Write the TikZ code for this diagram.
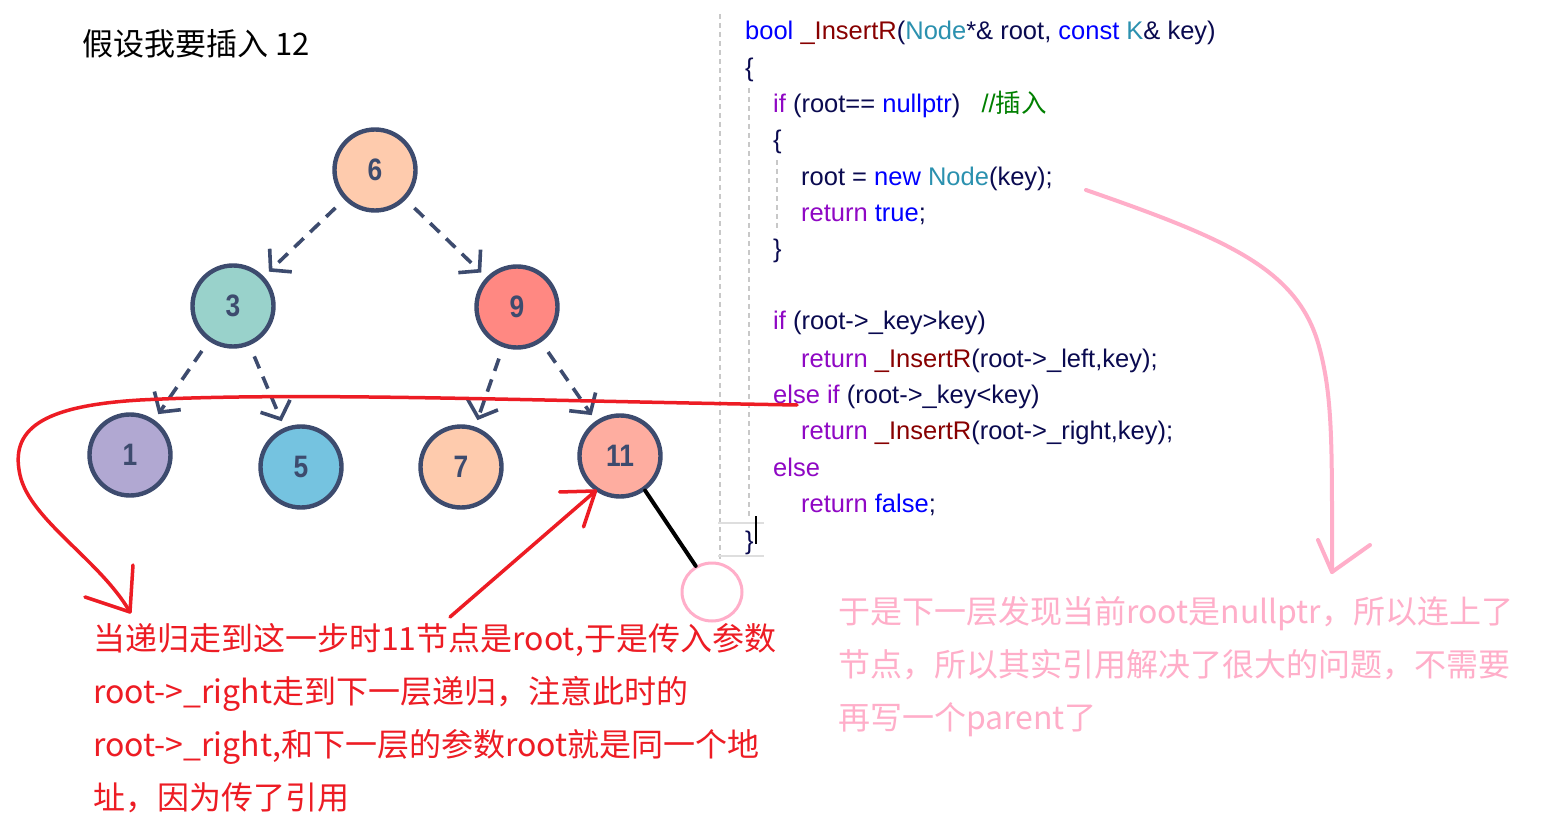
\documentclass[tikz,border=0pt]{standalone}
\usepackage{fontspec}
\setmainfont{Liberation Sans}
\newfontfamily\cjk{Noto Sans CJK SC}
\usepackage{xcolor}
\usepackage{tikz}
\usetikzlibrary{arrows.meta,shapes.geometric}

\definecolor{treeline}{HTML}{3D4B6E}
\definecolor{peach}{HTML}{FECBAD}
\definecolor{mint}{HTML}{99D2CB}
\definecolor{coral}{HTML}{FF8882}
\definecolor{lilac}{HTML}{B1A8D2}
\definecolor{sky}{HTML}{75C3E0}
\definecolor{salmon}{HTML}{FEADA0}
\definecolor{penred}{HTML}{ED1C24}
\definecolor{penpink}{HTML}{FFAEC9}
\definecolor{codetext}{HTML}{0A0A50}
\definecolor{codeblue}{HTML}{0000FF}
\definecolor{codepurple}{HTML}{8F08C4}
\definecolor{codefunc}{HTML}{880000}
\definecolor{codetype}{HTML}{2B91AF}
\definecolor{codegreen}{HTML}{008000}
\definecolor{guidegray}{HTML}{C8C8C8}

\newcommand{\kwblue}[1]{\textcolor{codeblue}{#1}}
\newcommand{\kwpurple}[1]{\textcolor{codepurple}{#1}}
\newcommand{\fnname}[1]{\textcolor{codefunc}{#1}}
\newcommand{\tyname}[1]{\textcolor{codetype}{#1}}
\newcommand{\cmtext}[1]{\textcolor{codegreen}{#1}}

\tikzset{
  treenode/.style={circle,draw=treeline,line width=4.4pt,minimum size=81pt,inner sep=0pt,
    text=treeline,font=\bfseries\fontsize{31}{31}\selectfont},
  treeedge/.style={draw=treeline,line width=3.6pt,dash pattern=on 13pt off 9pt,
    -{Straight Barb[length=14pt,width=32pt]},shorten <=12pt,shorten >=7pt},
  codeline/.style={anchor=base west,inner sep=0pt,text=codetext,font=\fontsize{25.5}{30}\selectfont},
  guide/.style={draw=guidegray,line width=1.2pt,dash pattern=on 5pt off 4pt},
  redpen/.style={draw=penred,line width=3.5pt,line cap=round,line join=round},
  pinkpen/.style={draw=penpink,line width=4pt,line cap=round,line join=round},
  note/.style={anchor=north west,inner sep=0pt,align=left},
}

\begin{document}
\begin{tikzpicture}[x=1pt,y=-1pt]
  \fill[white] (0,0) rectangle (1556,834);
  \useasboundingbox (0,0) rectangle (1556,834);

  \node[anchor=base west,inner sep=0pt,font=\cjk\fontsize{31}{31}\selectfont] (title) at (82,56) {假设我要插入 12};

  \node[treenode,fill=peach] (n6) at (375,170) {\scalebox{0.85}[1]{6}};
  \node[treenode,fill=mint] (n3) at (233,306) {\scalebox{0.85}[1]{3}};
  \node[treenode,fill=coral] (n9) at (517,307) {\scalebox{0.85}[1]{9}};
  \node[treenode,fill=lilac] (n1) at (130,455) {\scalebox{0.85}[1]{1}};
  \node[treenode,fill=sky] (n5) at (301,467) {\scalebox{0.85}[1]{5}};
  \node[treenode,fill=peach] (n7) at (461,467) {\scalebox{0.85}[1]{7}};
  \node[treenode,fill=salmon] (n11) at (620,456) {\scalebox{0.85}[1]{11}};

  \draw[treeedge] (n6) -- (n3);
  \draw[treeedge] (n6) -- (n9);
  \draw[treeedge] (n3) -- (n1);
  \draw[treeedge] (n3) -- (n5);
  \draw[treeedge] (n9) -- (n7);
  \draw[treeedge] (n9) -- (n11);

  \draw[guide] (720,14) -- (720,560);
  \draw[guide] (749,88) -- (749,518);
  \draw[guide] (777,160) -- (777,232);
  \draw[draw=guidegray!60,line width=2pt] (718,523) -- (764,523) (718,556) -- (764,556);

  \node[codeline] (c1) at (745,40) {\kwblue{bool} \fnname{\_InsertR}(\tyname{Node}*\& root, \kwblue{const} \tyname{K}\& key)};
  \node[codeline] (c2) at (745,77) {\{};
  \node[codeline] (c3) at (773,113) {\kwpurple{if} (root== \kwblue{nullptr})\ \ \ \cmtext{//{\cjk 插入}}};
  \node[codeline] (c4) at (773,149) {\{};
  \node[codeline] (c5) at (801,186) {root = \kwblue{new} \tyname{Node}(key);};
  \node[codeline] (c6) at (801,222) {\kwpurple{return} \kwblue{true};};
  \node[codeline] (c7) at (773,258) {\}};
  \node[codeline] (c8) at (773,330) {\kwpurple{if} (root->\_key>key)};
  \node[codeline] (c9) at (801,367) {\kwpurple{return} \fnname{\_InsertR}(root->\_left,key);};
  \node[codeline] (c10) at (773,403) {\kwpurple{else if} (root->\_key<key)};
  \node[codeline] (c11) at (801,439) {\kwpurple{return} \fnname{\_InsertR}(root->\_right,key);};
  \node[codeline] (c12) at (773,476) {\kwpurple{else}};
  \node[codeline] (c13) at (801,512) {\kwpurple{return} \kwblue{false};};
  \node[codeline] (c14) at (745,549) {\}};
  \draw[line width=2pt] ([xshift=2pt]c14.east) ++(0,-26) -- ++(0,28);

  \node[note,text=penred,font=\cjk\fontsize{32}{53}\selectfont] (rednote) at (93,623)
    {当递归走到这一步时11节点是root,于是传入参数\\root->\_right走到下一层递归，注意此时的\\root->\_right,和下一层的参数root就是同一个地\\址，因为传了引用};
  \node[note,text=penpink,font=\cjk\fontsize{32}{53}\selectfont] (pinknote) at (838,596)
    {于是下一层发现当前root是nullptr，所以连上了\\节点，所以其实引用解决了很大的问题，不需要\\再写一个parent了};

  \node[ellipse,draw=penpink,line width=3pt,minimum width=60pt,minimum height=58pt,inner sep=0pt] (hole) at (712,592) {};
  \draw[line width=4pt,line cap=round] (n11.306) -- (hole.122);

  \coordinate (redfrom) at ([xshift=24pt,yshift=-2pt]c10.base west);
  \coordinate (redtip) at (130,612);
  \draw[redpen] (redfrom) .. controls (500,400) and (300,392) .. (140,400)
    .. controls (40,406) and (10,430) .. (20,475)
    .. controls (30,520) and (100,560) .. (redtip);
  \draw[redpen] (redtip) -- ++(3,-47) (redtip) -- ++(-45,-15);

  \coordinate (upfrom) at (450,617);
  \draw[redpen] (upfrom) -- (n11.235);
  \draw[redpen] (n11.235) -- ++(-36,1) (n11.235) -- ++(-12,36);

  \coordinate (pinkfrom) at ([xshift=33pt,yshift=-4pt]c5.base east);
  \coordinate (pinktip) at (1332,572);
  \draw[pinkpen] (pinkfrom) .. controls (1230,240) and (1300,270) .. (1320,350)
    .. controls (1333,400) and (1332,450) .. (pinktip);
  \draw[pinkpen] (pinktip) -- ++(-14,-32) (pinktip) -- ++(38,-27);
\end{tikzpicture}
\end{document}
